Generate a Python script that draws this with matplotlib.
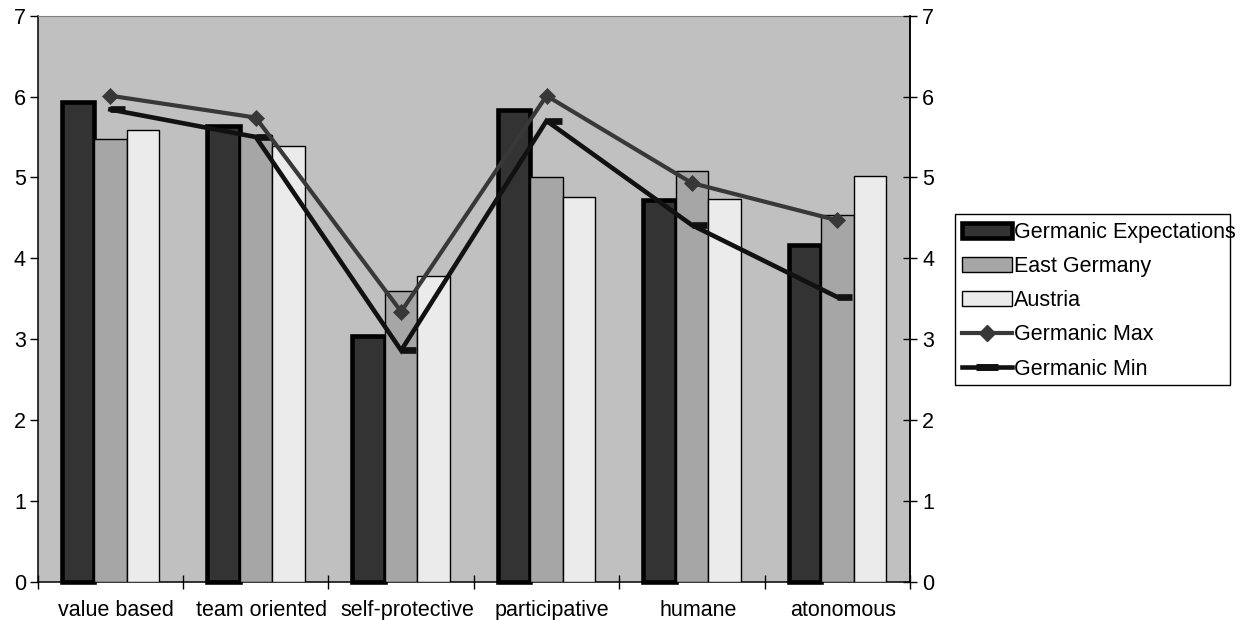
import matplotlib
matplotlib.use("Agg")
import matplotlib.pyplot as plt
import numpy as np
from matplotlib.path import Path
from matplotlib.patches import Rectangle, Patch
from matplotlib.lines import Line2D

categories = ["value based", "team oriented", "self-protective", "participative", "humane", "atonomous"]
germanic_expectations = [5.93, 5.64, 3.04, 5.83, 4.72, 4.17]
east_germany = [5.48, 5.52, 3.60, 5.00, 5.08, 4.53]
austria = [5.59, 5.39, 3.78, 4.76, 4.73, 5.02]
germanic_max = [6.01, 5.74, 3.34, 6.01, 4.93, 4.47]
germanic_min = [5.84, 5.50, 2.86, 5.70, 4.41, 3.52]
yticks = [0, 1, 2, 3, 4, 5, 6, 7]

plt.rcParams['font.family'] = ['Liberation Sans', 'DejaVu Sans']
FS = 15.5

fig = plt.figure(figsize=(12.58, 6.20), dpi=100)
ax = fig.add_axes([37.7/1258, 1-581.7/620, (910-37.7)/1258, (581.7-15.7)/620])
ax.set_facecolor("#C0C0C0")

x = np.arange(len(categories))
w = 0.2235

ax.bar(x - w, germanic_expectations, w, color="#333333", edgecolor="black",
       linewidth=3.3, zorder=2, clip_on=False, label="Germanic Expectations")
ax.bar(x, east_germany, w, color="#A6A6A6", edgecolor="black",
       linewidth=1.0, zorder=3, label="East Germany")
ax.bar(x + w, austria, w, color="#EBEBEB", edgecolor="black",
       linewidth=1.0, zorder=3, label="Austria")

dash = Path([(0, 0), (1, 0)], [Path.MOVETO, Path.LINETO])
ax.plot(x, germanic_min, color="#111111", lw=3.3, zorder=5,
        marker=dash, ms=21, mew=4.8, mec="#111111", solid_joinstyle="miter")
ax.plot(x, germanic_max, color="#383838", lw=3.0, zorder=6,
        marker="D", ms=8, mfc="#383838", mec="#383838", mew=0.5)

ax.set_xlim(-0.5, len(categories) - 0.5)
ax.set_ylim(0, 7)
ax.set_yticks(yticks)
ax.set_yticklabels([str(v) for v in yticks], fontsize=FS)
ax.tick_params(axis='y', direction='out', length=5.5, width=1.0, pad=3, colors='black')

ax.set_xticks(x + 0.04)
ax.set_xticklabels(categories, fontsize=FS)
ax.tick_params(axis='x', which='major', length=0, pad=13)
ax.set_xticks(np.arange(-0.5, len(categories), 1.0), minor=True)
ax.tick_params(axis='x', which='minor', direction='inout', length=9.5, width=1.0)

for s in ['left', 'bottom', 'right']:
    ax.spines[s].set_color('black')
    ax.spines[s].set_linewidth(1.1)
ax.spines['top'].set_color('#808080')
ax.spines['top'].set_linewidth(0.8)

ax2 = ax.twinx()
ax2.set_ylim(0, 7)
ax2.set_yticks(yticks)
ax2.set_yticklabels([str(v) for v in yticks], fontsize=FS)
ax2.tick_params(axis='y', direction='inout', length=9.5, width=1.0, pad=4)
for s in ['left', 'bottom', 'top']:
    ax2.spines[s].set_visible(False)
ax2.spines['right'].set_linewidth(1.1)

handles = [
    Patch(facecolor="#333333", edgecolor="black", linewidth=3.3),
    Patch(facecolor="#A6A6A6", edgecolor="black", linewidth=1.0),
    Patch(facecolor="#EBEBEB", edgecolor="black", linewidth=1.0),
    Line2D([], [], color="#383838", lw=3.0, marker="D", ms=8, mfc="#383838", mec="#383838"),
    Line2D([], [], color="#111111", lw=3.3, marker="_", ms=16, mew=5),
]
labels = ["Germanic Expectations", "East Germany", "Austria", "Germanic Max", "Germanic Min"]
leg = fig.legend(handles, labels, loc="upper left", bbox_to_anchor=(962/1258, 1-222/620),
                 frameon=False, fontsize=FS, borderpad=0, borderaxespad=0,
                 handlelength=2.3, handleheight=0.7, handletextpad=0.12,
                 labelspacing=0.61, numpoints=1)

fig.patches.append(Rectangle((955/1258, 1-385/620), (1230-955)/1258, (385-214.3)/620,
                             transform=fig.transFigure, fill=False, edgecolor='black',
                             linewidth=1.0, zorder=0))

fig.savefig("out.png", dpi=100, facecolor="white")
